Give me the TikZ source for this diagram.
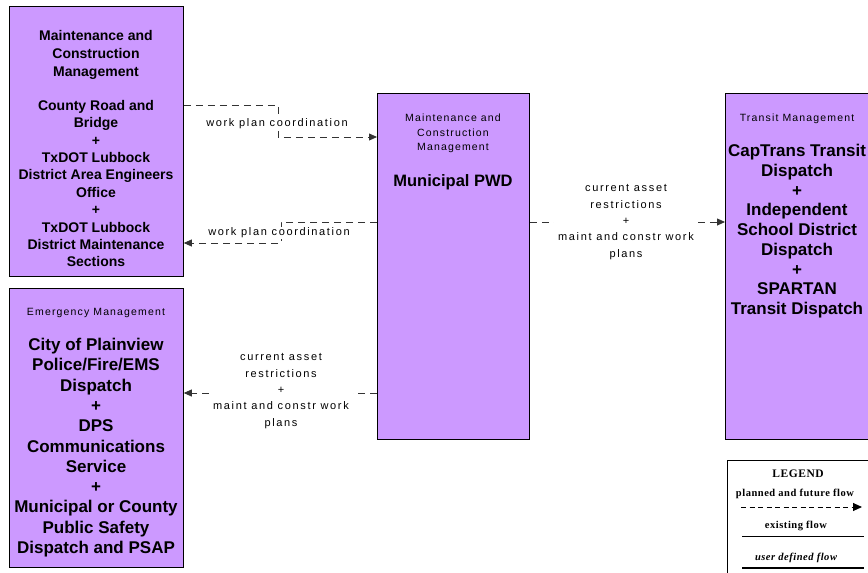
\documentclass[tikz,border=0pt]{standalone}
\usepackage{fontspec}
\setmainfont{Liberation Sans}
\newfontfamily\smallf{Liberation Sans}[LetterSpace=15]
\newfontfamily\headf{Liberation Sans}[LetterSpace=11]
\newfontfamily\legf{Liberation Serif}[LetterSpace=5]
\usetikzlibrary{arrows.meta}
\definecolor{boxfill}{HTML}{CC99FF}
\definecolor{linec}{HTML}{333333}
\tikzset{
  sysbox/.style={draw=black, line width=0.8pt, fill=boxfill, anchor=north west, inner sep=0pt},
  flow/.style={draw=linec, line width=0.8pt, dash pattern=on 7pt off 5pt, -{Triangle[length=8pt,width=7pt]}},
  flowlabel/.style={fill=white, inner sep=1pt, align=center, font=\smallf\fontsize{11}{16.3}\selectfont},
  headtxt/.style={anchor=north, inner sep=0pt, align=center, font=\headf\fontsize{10.5}{14.5}\selectfont},
  bigtxt/.style={anchor=north, inner sep=0pt, align=center, font=\bfseries\fontsize{17}{20.3}\selectfont},
  midtxt/.style={anchor=north, inner sep=0pt, align=center, font=\bfseries\fontsize{14}{17.4}\selectfont},
  legtxt/.style={inner sep=0pt, font=\legf\bfseries\fontsize{10.5}{12}\selectfont},
}
\begin{document}
\begin{tikzpicture}[x=1pt,y=-1pt]
\useasboundingbox (0,0) rectangle (868,573);

% boxes
\node[sysbox, minimum width=174pt, minimum height=270pt] (mcm) at (9,6) {};
\node[sysbox, minimum width=174pt, minimum height=279pt] (em) at (9,288) {};
\node[sysbox, minimum width=152pt, minimum height=346pt] (pwd) at (377,93) {};
\node[sysbox, minimum width=144pt, minimum height=346pt] (tm) at (725,93) {};

% box texts
\node[midtxt, font=\bfseries\fontsize{14}{18}\selectfont] (mcmh) at (96,30) {Maintenance and\\Construction\\Management};
\node[midtxt] (mcmt) at (96,100) {County Road and\\Bridge\\+\\TxDOT Lubbock\\District Area Engineers\\Office\\+\\TxDOT Lubbock\\District Maintenance\\Sections};

\node[headtxt] (emh) at (96,308) {Emergency Management};
\node[bigtxt] (emt) at (96,338) {City of Plainview\\Police/Fire/EMS\\Dispatch\\+\\DPS\\Communications\\Service\\+\\Municipal or County\\Public Safety\\Dispatch and PSAP};

\node[headtxt] (pwdh) at (453,114) {Maintenance and\\Construction\\Management};
\node[bigtxt, font=\bfseries\fontsize{16.5}{20}\selectfont] (pwdt) at (453,174) {Municipal PWD};

\node[headtxt] (tmh) at (797,114) {Transit Management};
\node[bigtxt, font=\bfseries\fontsize{17}{19.75}\selectfont] (tmt) at (797,144) {CapTrans Transit\\Dispatch\\+\\Independent\\School District\\Dispatch\\+\\SPARTAN\\Transit Dispatch};

% connectors
\draw[flow] (mcm.east |- 0,105) -- (278,105) -- (278,137) -- (pwd.west |- 0,137);
\node[flowlabel] (l1) at (277,124) {work plan coordination};

\draw[flow] (pwd.west |- 0,222) -- (281,222) -- (281,243) -- (mcm.east |- 0,243);
\node[flowlabel] (l2) at (279,233) {work plan coordination};

\draw[flow] (pwd.east |- 0,222) -- (tm.west |- 0,222);
\node[flowlabel, inner xsep=4pt] (l3) at (626,222) {current asset\\restrictions\\+\\maint and constr work\\plans};

\draw[flow] (pwd.west |- 0,393) -- (em.east |- 0,393);
\node[flowlabel, inner xsep=4pt] (l4) at (281,391) {current asset\\restrictions\\+\\maint and constr work\\plans};

% legend
\draw[black, line width=0.8pt] (727,573) -- (727,460.5) -- (868,460.5);
\node[legtxt, font=\legf\bfseries\fontsize{11.5}{12}\selectfont] (lg) at (798,474) {LEGEND};
\node[legtxt] (lgp) at (795,494) {planned and future flow};
\coordinate (pa) at (741,507);
\coordinate (pb) at (862,507);
\draw[black, line width=1pt, dash pattern=on 5pt off 3.5pt, -{Triangle[length=9pt,width=8pt]}] (pa) -- (pb);
\node[legtxt] (lge) at (796,526) {existing flow};
\coordinate (ea) at (742,536.5);
\coordinate (eb) at (864,536.5);
\draw[black, line width=1pt] (ea) -- (eb);
\node[legtxt, font=\legf\bfseries\itshape\fontsize{10.5}{12}\selectfont] (lgu) at (796,558) {user defined flow};
\coordinate (ua) at (742,568);
\coordinate (ub) at (864,568);
\draw[black, line width=2pt] (ua) -- (ub);
\end{tikzpicture}
\end{document}
